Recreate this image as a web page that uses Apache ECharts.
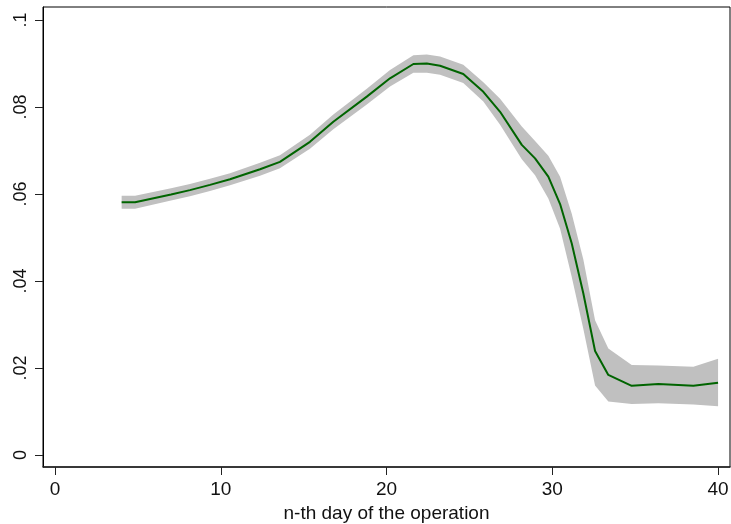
<!DOCTYPE html>
<html>
<head>
<meta charset="utf-8">
<script src="https://cdn.jsdelivr.net/npm/echarts@6/dist/echarts.min.js"></script>
<style>
html,body{margin:0;padding:0;background:#fff;}
#chart{width:731px;height:524px;}
</style>
</head>
<body>
<div id="chart"></div>
<script>
const days = [4.02, 4.83, 7.0, 8.14, 9.35, 10.56, 12.37, 13.57, 15.38, 16.79, 18.81, 20.21, 21.62, 22.43, 23.23, 24.63, 25.84, 26.85, 28.16, 28.96, 29.76, 30.47, 31.17, 31.87, 32.58, 33.38, 34.79, 36.40, 38.51, 40.0];
const estimate = [0.0581, 0.0581, 0.0599, 0.0609, 0.0621, 0.0634, 0.0657, 0.0674, 0.0720, 0.0766, 0.0824, 0.0866, 0.0899, 0.0900, 0.0895, 0.0876, 0.0835, 0.0789, 0.0713, 0.0682, 0.0640, 0.0577, 0.0487, 0.0372, 0.0239, 0.0184, 0.0159, 0.0163, 0.0159, 0.0166];
const upper = [0.0596, 0.0596, 0.0613, 0.0623, 0.0635, 0.0648, 0.0672, 0.0689, 0.0736, 0.0783, 0.0842, 0.0885, 0.0919, 0.0921, 0.0916, 0.0897, 0.0857, 0.0819, 0.0755, 0.0722, 0.0688, 0.0640, 0.0555, 0.0450, 0.0310, 0.0245, 0.0207, 0.0206, 0.0203, 0.0221];
const lower = [0.0566, 0.0566, 0.0585, 0.0595, 0.0607, 0.0620, 0.0642, 0.0659, 0.0704, 0.0749, 0.0806, 0.0847, 0.0879, 0.0879, 0.0874, 0.0855, 0.0813, 0.0759, 0.0680, 0.0643, 0.0590, 0.0520, 0.0410, 0.0290, 0.0160, 0.0123, 0.0117, 0.0119, 0.0116, 0.0112];
const xTicks = [0, 10, 20, 30, 40];
const yTicks = [0, 0.02, 0.04, 0.06, 0.08, 0.1];
const yTickLabels = ['0', '.02', '.04', '.06', '.08', '.1'];
const xTitle = 'n-th day of the operation';

const chart = echarts.init(document.getElementById('chart'), null, {renderer: 'canvas'});
const font = '"Liberation Sans", Arial, Helvetica, sans-serif';

const bandData = days.map((d, i) => [d, lower[i], upper[i]]);
const lineData = days.map((d, i) => [d, estimate[i]]);

chart.setOption({
  animation: false,
  backgroundColor: '#ffffff',
  grid: {left: 43, right: 1, top: 7, bottom: 57, show: true, borderColor: '#000', borderWidth: 1, backgroundColor: '#fff', containLabel: false, outerBoundsMode: 'none'},
  xAxis: {
    type: 'value', min: -0.724, max: 40.72,
    splitLine: {show: false},
    axisLine: {show: true, onZero: false, lineStyle: {color: '#222', width: 1.5}},
    axisTick: {show: true, length: 8, lineStyle: {color: '#222'}, customValues: xTicks},
    axisLabel: {fontFamily: font, fontSize: 19, color: '#111', margin: 13, customValues: xTicks, formatter: v => String(v)},
    name: xTitle, nameLocation: 'middle', nameGap: 36,
    nameTextStyle: {fontFamily: font, fontSize: 19, color: '#111'}
  },
  yAxis: {
    type: 'value', min: -0.00276, max: 0.103,
    splitLine: {show: false},
    axisLine: {show: true, onZero: false, lineStyle: {color: '#000', width: 1}},
    axisTick: {show: true, length: 8, lineStyle: {color: '#222'}, customValues: yTicks},
    axisLabel: {fontFamily: font, fontSize: 18, color: '#111', margin: 13, rotate: 90, customValues: yTicks,
      formatter: v => { const i = yTicks.findIndex(t => Math.abs(t - v) < 1e-9); return i >= 0 ? yTickLabels[i] : ''; }}
  },
  series: [
    {
      type: 'custom',
      coordinateSystem: 'cartesian2d',
      data: [0],
      encode: {x: [], y: []},
      clip: true,
      renderItem: function (params, api) {
        const pts = [];
        for (let i = 0; i < bandData.length; i++) pts.push(api.coord([bandData[i][0], bandData[i][2]]));
        for (let i = bandData.length - 1; i >= 0; i--) pts.push(api.coord([bandData[i][0], bandData[i][1]]));
        return {type: 'polygon', shape: {points: pts}, style: {fill: '#c0c0c0', stroke: 'none'}};
      },
      z: 1
    },
    {
      type: 'line',
      data: lineData,
      showSymbol: false,
      smooth: false,
      lineStyle: {color: '#006400', width: 2},
      z: 2
    }
  ]
});
</script>
</body>
</html>
